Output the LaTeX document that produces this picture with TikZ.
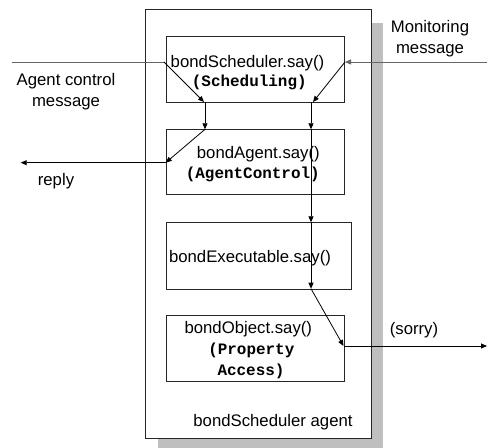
\documentclass[tikz,border=0pt]{standalone}
\usepackage{fontspec}
\setmainfont{Liberation Sans}
\newfontfamily\codefont{Liberation Mono}
\usetikzlibrary{arrows.meta}
\begin{document}
\begin{tikzpicture}[x=1bp,y=-1bp,
  box/.style={draw=black!85, line width=0.8bp, fill=white, inner sep=0pt, anchor=north west},
  lbl/.style={inner sep=0pt, anchor=base, font=\fontsize{16.8}{21.5}\selectfont, align=center},
  code/.style={lbl, font=\fontsize{16}{21.5}\selectfont\codefont\bfseries},
  flow/.style={line width=0.8bp, draw=black, -{Triangle[length=6bp,width=5bp]}},
  feed/.style={line width=0.8bp, draw=black!60},
]
\useasboundingbox (0,0) rectangle (487,448);

% agent container with its drop shadow
\fill[black!25] (158,22.7) rectangle (383.3,447.7);
\node[box, minimum width=225.7bp, minimum height=428.4bp] (agent) at (145,9.3) {};

% handler layers
\node[box, minimum width=178.6bp, minimum height=66bp]   (sched) at (165.7,36) {};
\node[box, minimum width=178.6bp, minimum height=65bp]   (ctrl)  at (165.7,129.3) {};
\node[box, minimum width=185bp,   minimum height=66.4bp] (exec)  at (165.7,222.3) {};
\node[box, minimum width=178.6bp, minimum height=66.6bp] (obj)   at (165.7,314.7) {};

% labels inside the layers
\node[lbl]  (schedname) at (247.5,67.5) {bondScheduler.say()};
\node[code] (schedrole) at (249.3,86.5) {(Scheduling)};
\node[lbl]  (ctrlname)  at (258.3,158.5) {bondAgent.say()};
\node[code] (ctrlrole)  at (252.8,179) {(AgentControl)};
\node[lbl]  (execname)  at (250,262) {bondExecutable.say()};
\node[lbl]  (objname)   at (248.3,333.5) {bondObject.say()};
\node[code] (objrole1)  at (251.3,354.5) {(Property};
\node[code] (objrole2)  at (251,375.5) {Access)};
\node[lbl]  (agentname) at (273,426) {bondScheduler agent};

% outside labels (base anchor sits on the last line)
\node[lbl] (monlbl)   at (430,54) {Monitoring\\message};
\node[lbl] (ctrllbl)  at (66,107) {Agent control\\message};
\node[lbl] (replylbl) at (56,186) {reply};
\node[lbl] (sorrylbl) at (414,334) {(sorry)};

% points on the message paths
\coordinate (acin)    at (12.3,62);
\coordinate (acturn)  at (164,62);
\coordinate (sdropL)  at (204,102);
\coordinate (sleaveL) at (205,102);
\coordinate (ctopL)   at (205,129.3);
\coordinate (cleftR)  at (165.7,162.7);
\coordinate (replyout) at (20.7,162.7);

\coordinate (monin)   at (487,62);
\coordinate (monturn) at (345,62);
\coordinate (sdropR)  at (313,102);
\coordinate (sleaveR) at (311,102);
\coordinate (ctopR)   at (311,129.3);
\coordinate (etop)    at (311,222.3);
\coordinate (ebot)    at (311,288.7);
\coordinate (oright)  at (343.5,346);
\coordinate (oleave)  at (344.3,346);
\coordinate (sorryout) at (487,346);

% agent control message and reply
\draw[feed] (acin) -- (acturn);
\draw[flow] (acturn) -- (sdropL);
\draw[flow] (sleaveL) -- (ctopL);
\draw[flow] (ctopL) -- (cleftR);
\draw[flow] (cleftR) -- (replyout);

% monitoring message down to the object layer
\draw[feed, -{Triangle[length=6bp,width=5bp]}] (monin) -- (monturn);
\draw[flow] (monturn) -- (sdropR);
\draw[flow] (sleaveR) -- (ctopR);
\draw[flow] (ctopR) -- (etop);
\draw[flow] (etop) -- (ebot);
\draw[flow] (ebot) -- (oright);
\draw[flow] (oleave) -- (sorryout);
\end{tikzpicture}
\end{document}
